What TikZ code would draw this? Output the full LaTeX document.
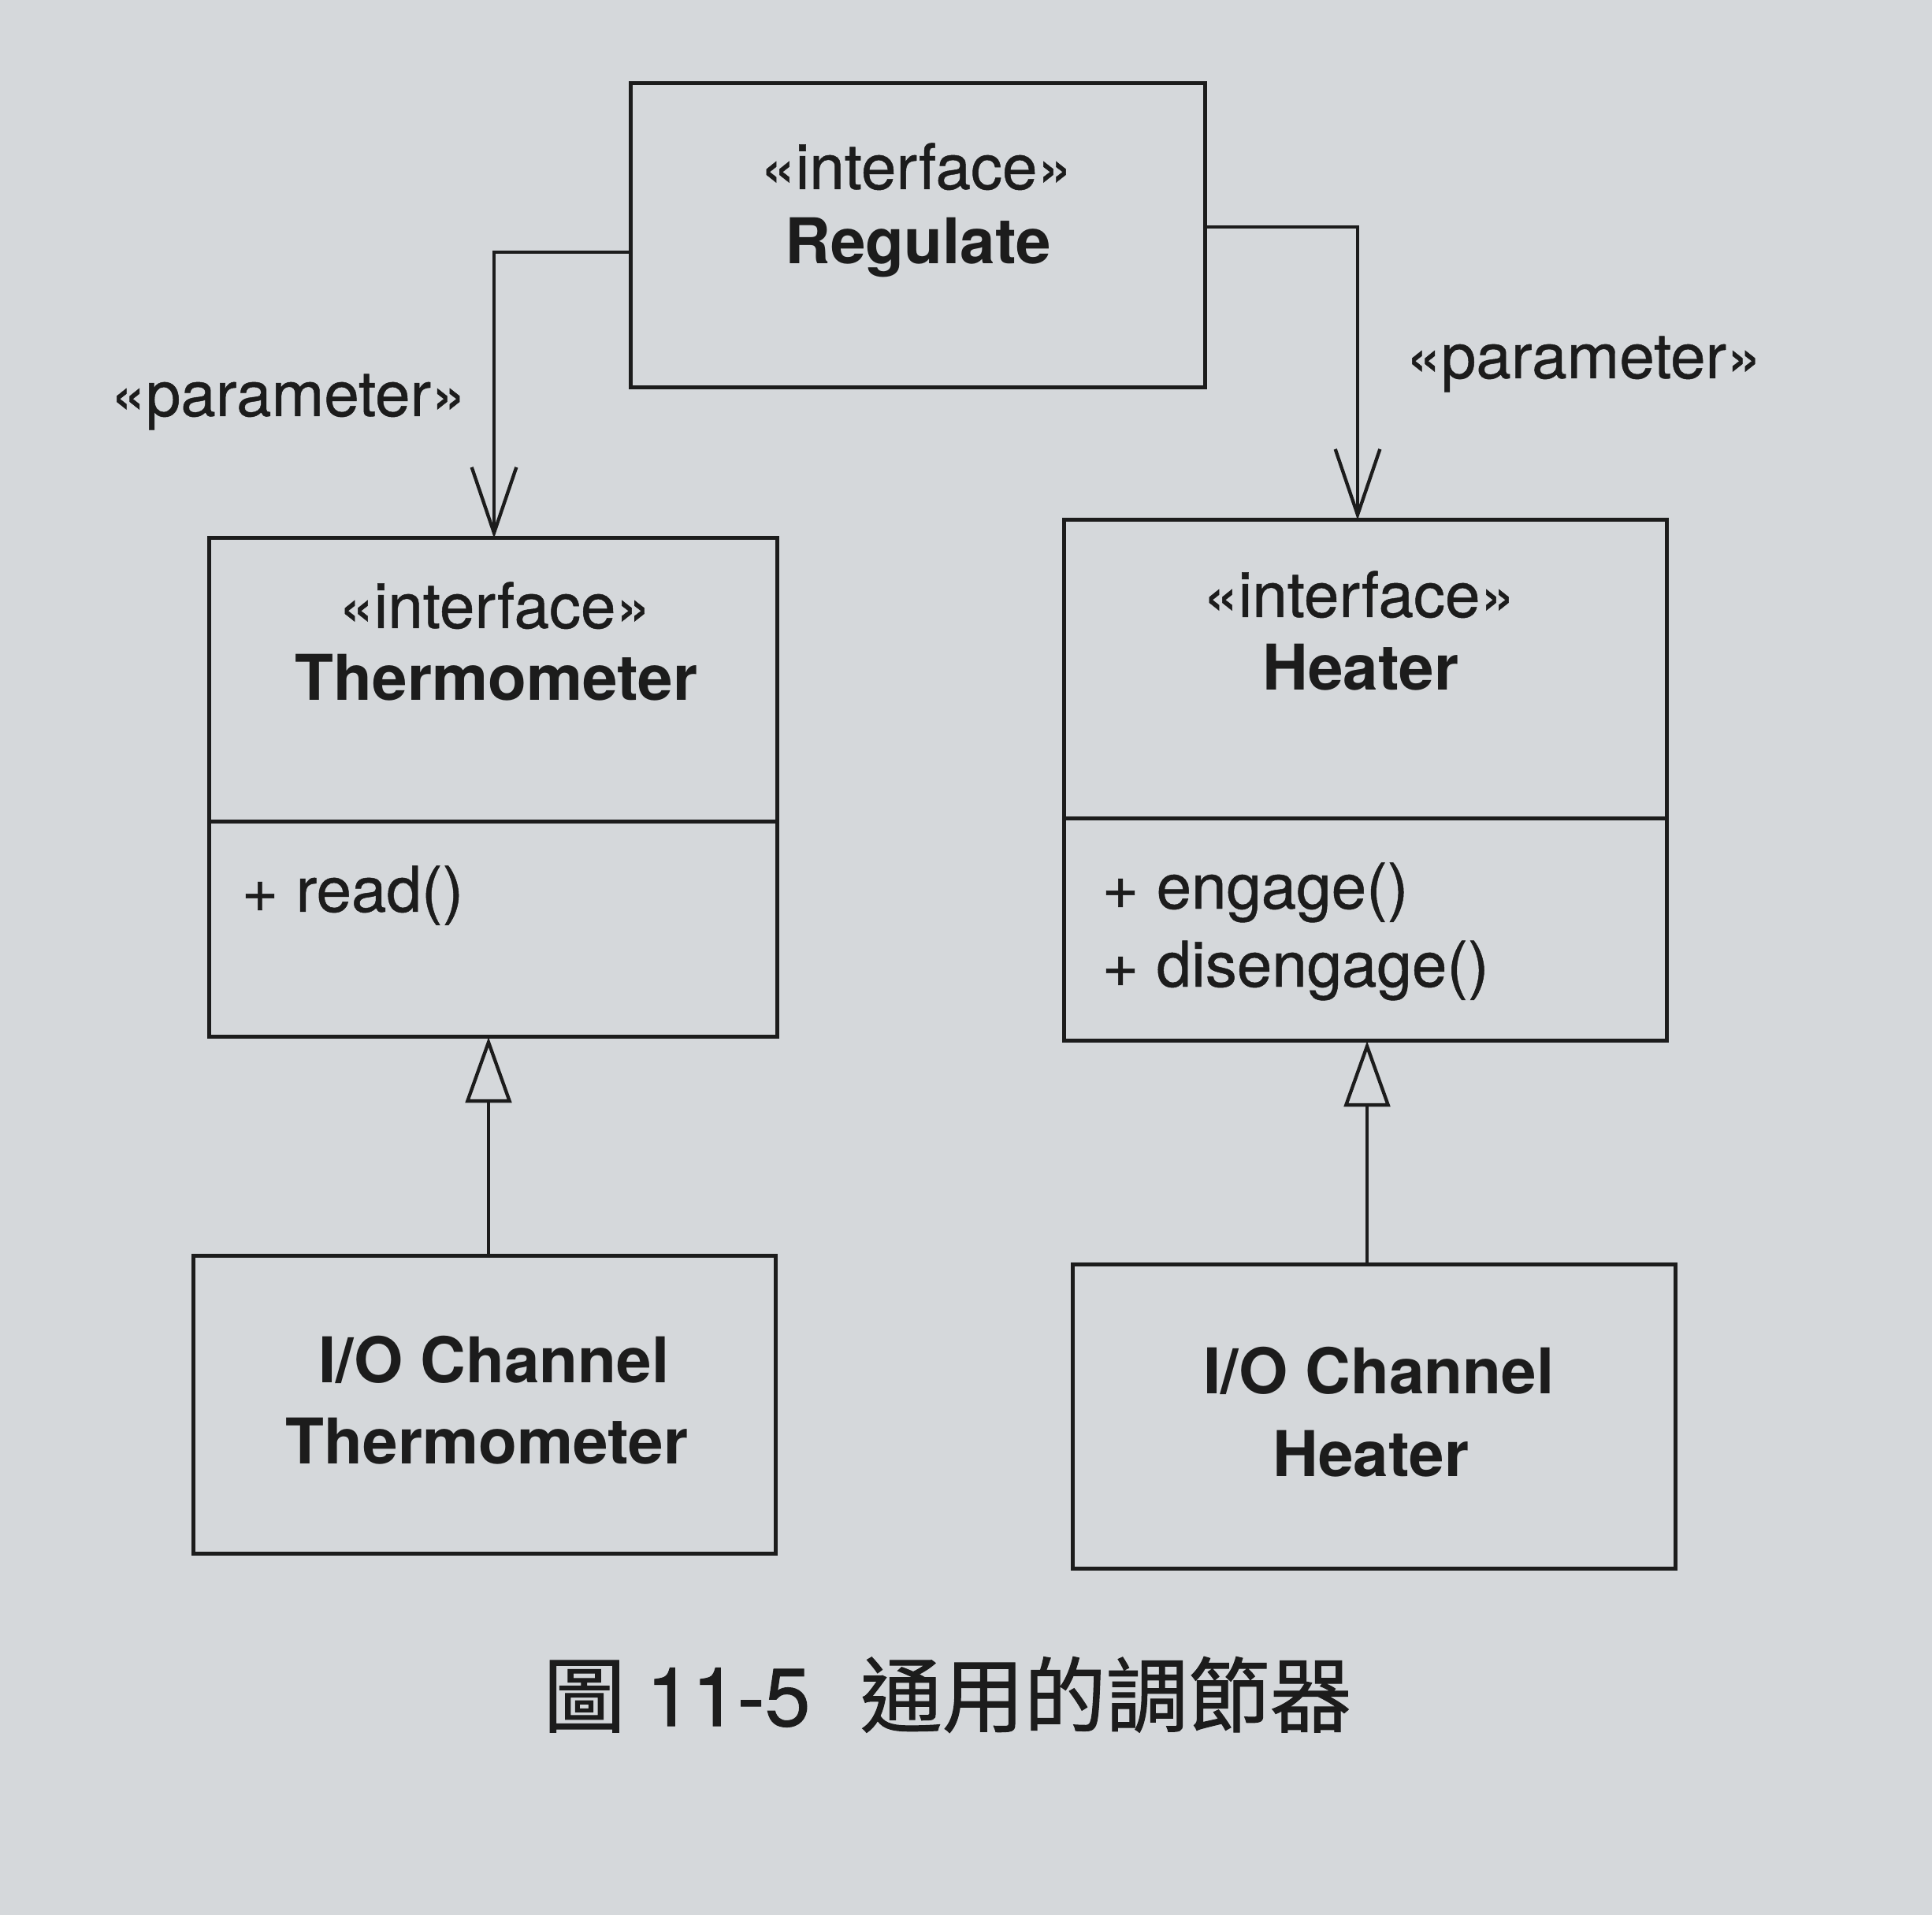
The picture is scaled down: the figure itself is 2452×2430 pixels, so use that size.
\documentclass[tikz,border=0pt]{standalone}
\usepackage{fontspec}
\setmainfont{TeX Gyre Heros}
\newfontfamily\regf[FakeBold=0.6]{TeX Gyre Heros}
\newfontfamily\cjk[FakeBold=1]{Noto Sans CJK TC}
\newfontfamily\capnum[FakeBold=1]{TeX Gyre Heros}
\usetikzlibrary{arrows.meta}
\definecolor{bgc}{RGB}{213,216,219}
\definecolor{ink}{RGB}{28,28,28}
\begin{document}
\begin{tikzpicture}[x=0.3pt,y=-0.3pt,
  box/.style={draw=ink, line width=1.5pt, inner sep=0pt, outer sep=0pt},
  txt/.style={text=ink, inner sep=0pt, anchor=base, font=\fontsize{24}{28}\selectfont\regf},
  bold/.style={txt, font=\fontsize{24}{28}\selectfont\bfseries},
  param/.style={draw=ink, line width=1.3pt, -{Straight Barb[length=25pt,width=17pt,line width=1.3pt]}},
  realize/.style={draw=ink, line width=1.3pt, -{Triangle[open,length=25pt,width=17.5pt,line width=1.3pt]}},
]
\fill[bgc] (0,0) rectangle (2452,2430);
\useasboundingbox (0,0) rectangle (2452,2430);

% boxes
\node[box, minimum width=218.7pt, minimum height=115.8pt] (reg) at (1164.5,299) {};
\node[box, minimum width=216.3pt, minimum height=189.9pt] (therm) at (625.5,999.5) {};
\node[box, minimum width=229.5pt, minimum height=198.3pt] (heat) at (1732.5,990.5) {};
\node[box, minimum width=221.7pt, minimum height=113.4pt] (iot) at (614.5,1782) {};
\node[box, minimum width=229.5pt, minimum height=115.8pt] (ioh) at (1743.5,1797) {};

% compartment dividers
\coordinate (tdiv) at (0,1043);
\coordinate (hdiv) at (0,1039);
\draw[box] (therm.west |- tdiv) -- (therm.east |- tdiv);
\draw[box] (heat.west |- hdiv) -- (heat.east |- hdiv);

% texts
\node[txt] (regst) at (1163,240) {«interface»};
\node[bold] (regname) at (1165,335) {Regulate};
\node[txt] (thst) at (628,797) {«interface»};
\node[bold] (thname) at (630,889) {Thermometer};
\node[txt, anchor=base west] (thop) at (306,1157) {+ read()};
\node[txt] (hest) at (1725,783) {«interface»};
\node[bold] (hename) at (1727,876) {Heater};
\node[txt, anchor=base west] (heop1) at (1398,1153) {+ engage()};
\node[txt, anchor=base west] (heop2) at (1398,1252) {+ disengage()};
\node[bold] (iot1) at (627,1754) {I/O Channel};
\node[bold] (iot2) at (618,1857) {Thermometer};
\node[bold] (ioh1) at (1750,1768) {I/O Channel};
\node[bold] (ioh2) at (1740,1873) {Heater};
\node[txt] (pl) at (366,528) {«parameter»};
\node[txt] (pr) at (2010,480) {«parameter»};

% connectors
\coordinate (lb) at (627,320);
\coordinate (rb) at (1723,288);
\draw[param] (reg.west |- lb) -| (therm.north -| lb);
\draw[param] (reg.east |- rb) -| (heat.north -| rb);
\coordinate (lr) at (620,0);
\coordinate (rr) at (1735,0);
\draw[realize] (iot.north -| lr) -- (therm.south -| lr);
\draw[realize] (ioh.north -| rr) -- (heat.south -| rr);

% caption
\node[txt, anchor=base west, font=\fontsize{31.2}{36}\selectfont\capnum] (cap) at (689,2190)
  {{\cjk 圖}\hspace{8pt}11-5\hspace{19pt}{\cjk 通用的調節器}};
\end{tikzpicture}
\end{document}
